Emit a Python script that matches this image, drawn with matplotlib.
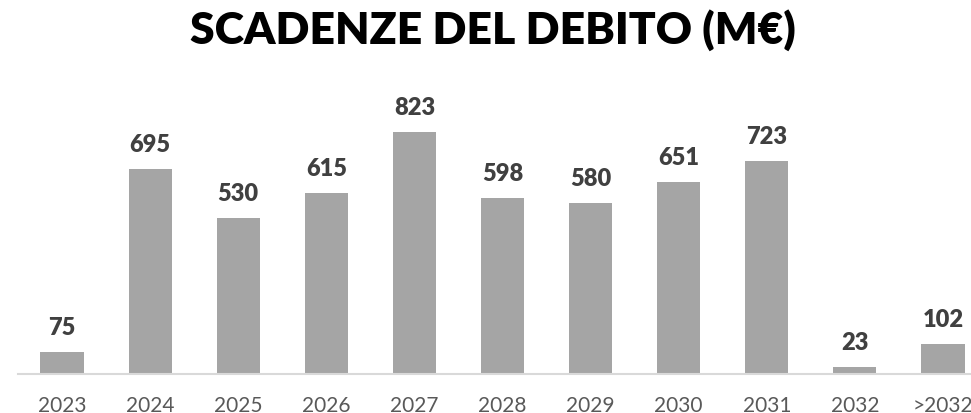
import matplotlib
matplotlib.use("Agg")
import matplotlib.pyplot as plt

plt.rcParams['font.family'] = ['Lato', 'DejaVu Sans']

categories = ['2023', '2024', '2025', '2026', '2027', '2028', '2029', '2030', '2031', '2032', '>2032']
values = [75, 695, 530, 615, 823, 598, 580, 651, 723, 23, 102]

W, H = 971, 414
fig = plt.figure(figsize=(W / 100, H / 100), dpi=100)

# axes slightly wider than the figure: last bar touches the right edge
left, right = 18, 987
base, top = 375, 110
ax = fig.add_axes([left / W, (H - base) / H, (right - left) / W, (base - top) / H])

x = range(len(categories))
bars = ax.bar(x, values, width=0.49, color='#A5A5A5')
ax.set_xlim(-0.5, len(categories) - 0.5)
ax.set_ylim(0, 900)

for rect, v in zip(bars, values):
    ax.annotate(str(v), (rect.get_x() + rect.get_width() / 2, rect.get_height()),
                xytext=(0, 10), textcoords='offset points', ha='center', va='bottom',
                fontsize=17, fontweight='heavy', color='#404040')

ax.set_xticks(list(x))
ax.set_xticklabels(categories, fontsize=15, color='#595959')
ax.tick_params(axis='x', length=0, pad=15)
ax.set_yticks([])
for s in ['top', 'left', 'right']:
    ax.spines[s].set_visible(False)
ax.spines['bottom'].set_color('#D9D9D9')
ax.spines['bottom'].set_linewidth(1.5)

fig.text(493 / W, 1 - 44 / H, 'SCADENZE DEL DEBITO (M€)', ha='center', va='baseline',
         fontsize=32, fontweight='heavy', color='black')

fig.savefig('out.png', dpi=100)
